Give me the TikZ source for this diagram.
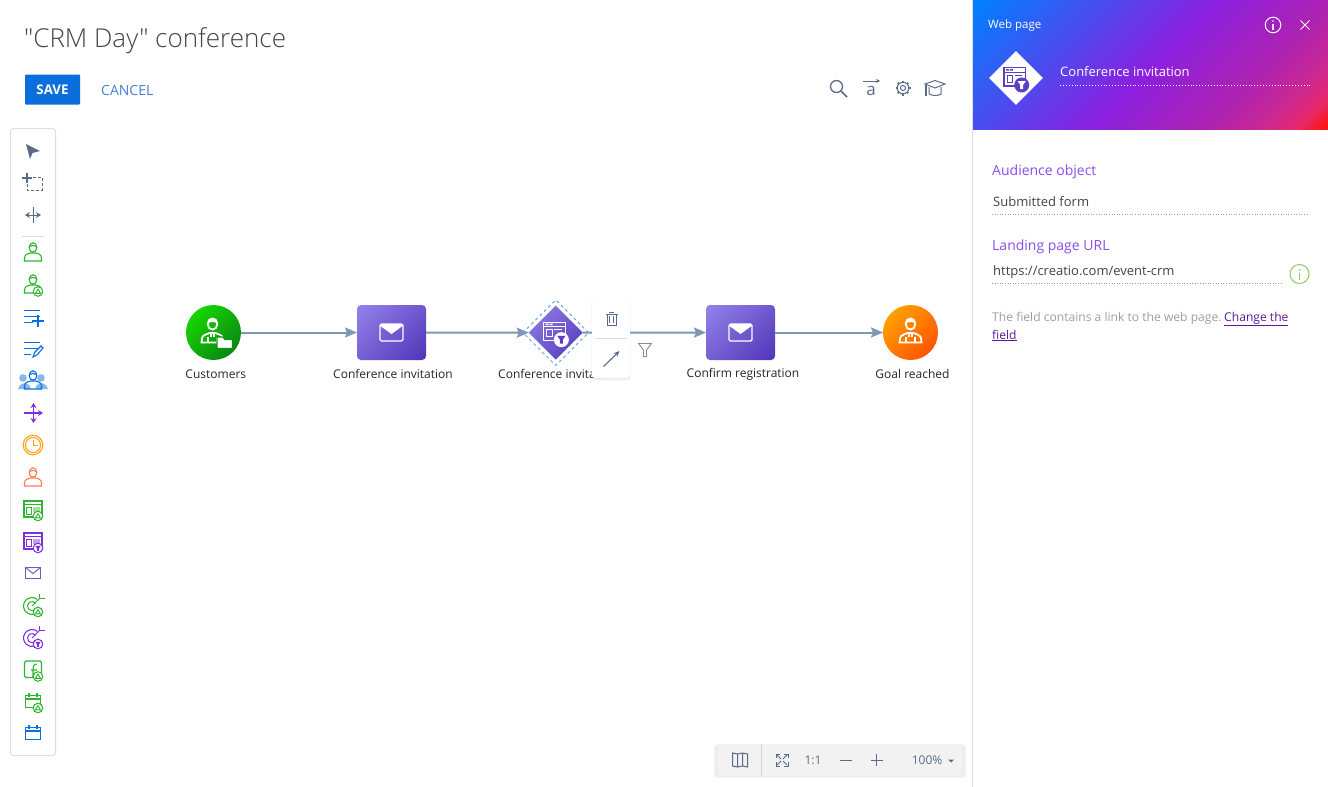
\documentclass[tikz,border=0pt]{standalone}
\usepackage{fontspec}
\setmainfont{Open Sans}
\newfontfamily\titlefont{Open Sans Light}
\usetikzlibrary{arrows.meta,shapes.geometric,shadows}

\definecolor{linkblue}{HTML}{0A6FDC}
\definecolor{cancelblue}{HTML}{4A7FD6}
\definecolor{textdark}{HTML}{444444}
\definecolor{slate}{HTML}{5A6B88}
\definecolor{flowline}{HTML}{7F97B2}
\definecolor{tooledge}{HTML}{DEDEDE}
\definecolor{usergreen}{HTML}{2DB52D}
\definecolor{listblue}{HTML}{0A6FDC}
\definecolor{flowpurple}{HTML}{7B2FE0}
\definecolor{clockorange}{HTML}{FFA31A}
\definecolor{goalred}{HTML}{FF7A5C}
\definecolor{mailpurple}{HTML}{6F5DB5}
\definecolor{darktask}{HTML}{5A3FC4}
\definecolor{labelpurple}{HTML}{8A4DF0}
\definecolor{linkpurple}{HTML}{5B1A9A}
\definecolor{infogreen}{HTML}{8CCB5E}
\definecolor{taska}{HTML}{9582EA}
\definecolor{taskb}{HTML}{4F35B8}
\definecolor{greena}{HTML}{16D600}
\definecolor{greenb}{HTML}{0A8714}
\definecolor{orangea}{HTML}{FFA000}
\definecolor{orangeb}{HTML}{FF5500}
\definecolor{heada}{HTML}{0080FF}
\definecolor{headb}{HTML}{8A20E0}
\definecolor{headc}{HTML}{B022B0}
\definecolor{headd}{HTML}{CC2890}
\definecolor{heade}{HTML}{E82868}
\definecolor{headf}{HTML}{FF1414}

\pgfdeclarehorizontalshading{taskgrad}{100bp}{color(0bp)=(taska); color(15bp)=(taska); color(85bp)=(taskb); color(100bp)=(taskb)}
\pgfdeclarehorizontalshading{greengrad}{100bp}{color(0bp)=(greena); color(25bp)=(greena); color(75bp)=(greenb); color(100bp)=(greenb)}
\pgfdeclarehorizontalshading{orangegrad}{100bp}{color(0bp)=(orangea); color(25bp)=(orangea); color(75bp)=(orangeb); color(100bp)=(orangeb)}
\pgfdeclarehorizontalshading{headgrad}{100bp}{color(0bp)=(heada); color(15bp)=(heada); color(50bp)=(headb); color(68bp)=(headc); color(76bp)=(headd); color(81bp)=(heade); color(84.5bp)=(headf); color(100bp)=(headf)}

\tikzstyle{textlabel}=[inner sep=0pt,anchor=west,text=textdark,font=\fontsize{13}{15}\selectfont]
\tikzstyle{steplabel}=[inner sep=0pt,text=black!85,font=\fontsize{12}{14}\selectfont]
\tikzstyle{barlabel}=[inner sep=0pt,text=slate,font=\fontsize{12}{14}\selectfont]
\tikzstyle{fieldname}=[textlabel,text=labelpurple,font=\fontsize{14}{16}\selectfont]
\tikzstyle{hint}=[textlabel,anchor=base west,text=black!38,font=\fontsize{12.1}{14}\selectfont]
\tikzstyle{eventnode}=[circle,minimum size=55pt,inner sep=0pt,outer sep=0pt,shade,shading angle=-45]
\tikzstyle{tasknode}=[rectangle,rounded corners=4pt,minimum width=69pt,minimum height=55pt,inner sep=0pt,outer sep=0pt,shade,shading=taskgrad,shading angle=-45]
\tikzstyle{flow}=[draw=flowline,line width=2pt,-{Stealth[length=12pt,width=10pt,inset=2pt]}]
\tikzstyle{fieldline}=[draw=black!40,line width=.6pt,dotted]
\tikzstyle{softshadow}=[drop shadow={shadow xshift=0pt,shadow yshift=-1.5pt,shadow scale=1.03,opacity=.08},drop shadow={shadow xshift=0pt,shadow yshift=-.5pt,shadow scale=1.01,opacity=.12}]

\tikzset{
  pics/usericon/.style={code={
    \draw[line width=1.1pt] (0,-4.5) ellipse (3.8 and 4.7);
    \draw[line width=1.1pt] (-3.4,-5.5) .. controls (-1,-7) and (1,-7) .. (3.4,-5.5);
    \draw[line width=1.1pt] (-8.5,9) -- (-8.5,6) .. controls (-8.5,2.5) and (-5,1.5) .. (-3,1) -- (3,1) .. controls (5,1.5) and (8.5,2.5) .. (8.5,6) -- (8.5,9) -- cycle;}},
  pics/upbadge/.style={code={
    \draw[line width=1pt,fill=white] (0,0) circle (4.8);
    \draw[line width=.9pt] (0,-2.4) -- (2.5,1.8) -- (-2.5,1.8) -- cycle;}},
  pics/filterbadge/.style={code={
    \draw[line width=1pt,fill=white] (0,0) circle (4.8);
    \fill (-2.8,-2.2) -- (2.8,-2.2) -- (.9,.5) -- (.9,2.8) -- (-.9,2.8) -- (-.9,.5) -- cycle;}},
  pics/windowicon/.style={code={
    \draw[line width=1.1pt] (-9,-9) rectangle (9,7);
    \draw[line width=.9pt] (-9,-5.5) -- (9,-5.5);
    \draw[line width=.9pt] (-6.5,-3) rectangle (-2,4.5);
    \fill[opacity=.45] (0,-3) rectangle (7,2);}},
  pics/targeticon/.style={code={
    \draw[line width=1.1pt] (-1,1) ++(-50:8.5) arc (-50:-330:8.5);
    \draw[line width=1pt] (-1,1) ++(-35:4.5) arc (-35:-330:4.5);
    \draw[line width=1pt] (-1,1) -- (7,-7);
    \draw[line width=1pt] (6.5,-11) -- (6.5,-6.5) -- (11.5,-6.5);}},
  pics/calicon/.style={code={
    \draw[line width=1.1pt] (-7.5,-5.5) rectangle (7.5,6.5);
    \draw[line width=1.1pt] (-7.5,-2) -- (7.5,-2);
    \draw[line width=1.1pt] (-4,-8) -- (-4,-4) (4,-8) -- (4,-4);}},
  pics/mailbadge/.style={code={
    \draw[white,line width=1.4pt,rounded corners=1.5pt] (-11.5,-8.5) rectangle (11.5,8.5);
    \fill[white] (-11,-8.5) -- (11,-8.5) -- (11,-6.5) -- (0,1.5) -- (-11,-6.5) -- cycle;}},
  pics/whitewindow/.style n args={3}{code={
    \draw[#1,line width=1.2pt] (-12,-10.5) rectangle (9.5,8);
    \draw[#1,line width=1pt] (-12,-6) -- (9.5,-6);
    \fill[#1] (-10,-9) rectangle (-7,-7.5) (-6,-9) rectangle (-3,-7.5);
    \draw[#1,line width=1pt] (-9,-3) rectangle (-3.5,4);
    \draw[#1,line width=1pt] (-1.5,-3) -- (6,-3);
    \fill[#2] (5.7,7) circle (7.5);
    \fill[#3] (1.6,3.2) -- (9.8,3.2) -- (7.2,6.8) -- (7.2,11) -- (4.2,11) -- (4.2,6.8) -- cycle;}},
  pics/whiteperson/.style={code={
    \draw[white,line width=1.8pt] (0,-8.5) ellipse (4.8 and 5.6);
    \fill[white] (-5.3,-9) .. controls (-2,-11) and (2,-11) .. (5.3,-9) .. controls (5,-15.5) and (-5,-15.5) .. (-5.3,-9);
    \draw[white,line width=1.8pt] (-11,10) -- (-10.5,5.5) .. controls (-10,2.5) and (-5,1.5) .. (-3,.5) -- (3,.5) .. controls (5,1.5) and (10,2.5) .. (10.5,5.5) -- (11,10) -- cycle;
    \draw[white,line width=1.5pt] (-4.5,4) -- (-4.5,10) (4.5,4) -- (4.5,10) (-1.5,1) -- (-1.5,4) (1.5,1) -- (1.5,4);}}
}

\begin{document}
\begin{tikzpicture}[x=1pt,y=-1pt]
\useasboundingbox (0,0) rectangle (1328,787);
\fill[white] (0,0) rectangle (1328,787);

% title and buttons
\node[textlabel,font=\titlefont\fontsize{26}{30}\selectfont] (title) at (24,41) {"CRM Day" conference};
\node[rectangle,fill=linkblue,rounded corners=1pt,minimum width=55pt,minimum height=30pt,inner sep=0pt,text height=9.3pt,text depth=0pt,text=white,font=\fontsize{13.3}{15}\selectfont\bfseries] (save) at (52.5,89.5) {SAVE};
\node[textlabel,text=cancelblue,font=\fontsize{14}{16}\selectfont] (cancel) at (101,90.5) {CANCEL};

% top right tools
\draw[slate,line width=1.3pt] (836.5,86.5) circle (6);
\draw[slate,line width=1.6pt] (841,91) -- (847,97);
\draw[slate,line width=1pt,-{Stealth[length=4pt,width=4pt]}] (863,81) -- (880,81);
\node[barlabel,font=\fontsize{17}{18}\selectfont] (atool) at (871,91) {a};
\draw[slate,line width=1pt] (903,88) circle (2.6);
\draw[slate,line width=1pt] (903,88) circle (5.8);
\foreach \a in {0,45,...,315}
  \draw[slate,line width=1.5pt] (903,88) ++(\a:5.8) -- ++(\a:1.7);
\draw[slate,line width=1pt,fill=white] (925,84) -- (935,80.5) -- (945,84) -- (935,88) -- cycle;
\draw[slate,line width=1pt] (929,87) -- (929,94) .. controls (933,96) and (938,96) .. (941,94) -- (941,87);
\draw[slate,line width=1.2pt] (926,85) -- (926,96);

% palette
\draw[tooledge,line width=1pt,rounded corners=3pt] (10.5,128.5) rectangle (55.5,755.5);
\fill[slate] (26,144) -- (40,151) -- (32.5,153) -- (30,159) -- cycle;
\draw[slate,line width=1.2pt] (22,178) -- (32,178) (27,173) -- (27,183);
\draw[slate,line width=1pt,densely dashed] (28,177) -- (42,177) -- (42,190) -- (27,190) -- (27,183);
\draw[slate,line width=1pt,{Stealth[length=5pt,width=6pt]}-{Stealth[length=5pt,width=6pt]}] (25,215) -- (41,215);
\draw[slate,line width=1pt] (33,207) -- (33,223);
\draw[tooledge,line width=1pt] (22,236.5) -- (44,236.5);

\pic[color=usergreen] at (33,252) {usericon};
\pic[color=usergreen] at (33,284) {usericon};
\pic[color=usergreen] at (38,291.5) {upbadge};

\draw[listblue,line width=1.2pt] (24,310.5) -- (40,310.5) (24,316.5) -- (40,316.5) (24,322.5) -- (33,322.5);
\draw[listblue,line width=1.2pt] (32,321) -- (44,321) (38,315) -- (38,327);
\draw[listblue,line width=1.2pt] (24,342.5) -- (40,342.5) (24,348.5) -- (38,348.5) (24,354.5) -- (31,354.5);
\draw[listblue,line width=1.1pt] (33,357) -- (35,352) -- (41,346) -- (43,348) -- (37,355) -- cycle;

\fill[listblue!50] (23,378) circle (3.8) (41,378) circle (3.8);
\fill[listblue!50] (18,389) .. controls (19,383) and (27,381) .. (30,386) -- (30,389) -- cycle;
\fill[listblue!50] (48,389) .. controls (47,383) and (39,381) .. (36,386) -- (36,389) -- cycle;
\pic[color=listblue] at (33,380) {usericon};

\draw[flowpurple,line width=1.2pt,-{Stealth[length=5pt,width=6pt]}] (24,413) -- (43,413);
\draw[flowpurple,line width=1.2pt,{Stealth[length=5pt,width=6pt]}-{Stealth[length=5pt,width=6pt]}] (33.5,403) -- (33.5,423);

\draw[clockorange,line width=1.1pt] (33,445) circle (9.8) (33,445) circle (7.6);
\draw[clockorange,line width=1pt] (33,440) -- (33,445.5) -- (38,445.5);

\pic[color=goalred] at (33,477) {usericon};

\pic[color=usergreen] at (33,510) {windowicon};
\pic[color=usergreen] at (38,516) {upbadge};
\pic[color=flowpurple] at (33,542) {windowicon};
\pic[color=flowpurple] at (38,548) {filterbadge};

\draw[mailpurple,line width=1.1pt] (25.5,567.5) rectangle (40.5,578.5);
\draw[mailpurple,line width=1pt] (25.5,567.5) -- (33,573.5) -- (40.5,567.5);

\pic[color=usergreen] at (33,605) {targeticon};
\pic[color=usergreen] at (38,612) {upbadge};
\pic[color=flowpurple] at (33,637) {targeticon};
\pic[color=flowpurple] at (38,644) {filterbadge};

\draw[usergreen,line width=1.1pt,rounded corners=1.5pt] (24.5,661) rectangle (41.5,677.5);
\draw[usergreen,line width=1.1pt] (37,664) .. controls (33,664) and (33,667) .. (33,670) -- (33,677) (31,670) -- (37,670);
\pic[color=usergreen] at (38,676.5) {upbadge};
\pic[color=usergreen] at (33,701) {calicon};
\pic[color=usergreen] at (38,708) {upbadge};
\pic[color=listblue] at (33,733) {calicon};

% flow nodes
\node[eventnode,shading=greengrad] (customers) at (213.5,332.5) {};
\node[tasknode] (invite) at (391.5,332.5) {};
\node[diamond,minimum width=54pt,minimum height=54pt,inner sep=0pt,outer sep=0pt,shade,shading=taskgrad,shading angle=-45] (landing) at (555.7,332.7) {};
\node[tasknode] (confirm) at (740.5,332.5) {};
\node[eventnode,shading=orangegrad] (goal) at (910.5,332.5) {};

\draw[flow] (customers) -- (invite);
\draw[flow] (invite) -- (landing);
\draw[flow] (landing) -- (confirm);
\draw[flow] (confirm) -- (goal);

\node[diamond,minimum width=66pt,minimum height=66pt,inner sep=0pt,draw=linkblue!60,line width=1pt,dashed] (selected) at (landing) {};

\node[steplabel] (customerslabel) at (215.8,374) {Customers};
\node[steplabel] (invitelabel) at (393,374) {Conference invitation};
\node[steplabel,anchor=west] (landinglabel) at (498,374) {Conference invitation};
\node[steplabel] (confirmlabel) at (743,374) {Confirm registration};
\node[steplabel] (goallabel) at (912.5,374) {Goal reached};

% icons on the nodes
\pic at (invite) {mailbadge};
\pic at (confirm) {mailbadge};
\pic at (landing) {whitewindow={white}{white}{darktask}};
\pic at (goal) {whiteperson};
\pic at ([xshift=-1pt]customers) {whiteperson};
\draw[greenb!85!greena,line width=1.2pt,fill=white] (217,338) -- (217,348.5) -- (232.5,348.5) -- (232.5,339.5) -- (225,339.5) -- (223,337) -- (217,337) -- cycle;

% popup on the selected node
\node[rectangle,fill=white,rounded corners=3pt,minimum width=38pt,minimum height=79pt,inner sep=0pt,softshadow] (popup) at (611,338.5) {};
\draw[black!12,line width=.8pt] (595,338.5) -- (627,338.5);
\draw[slate,line width=1pt] (607,314) rectangle (616,325);
\draw[slate,line width=1pt] (605.5,314) -- (617.5,314) (609,312) -- (614,312);
\draw[slate,line width=.8pt] (609.7,316) -- (609.7,323) (613.3,316) -- (613.3,323);
\draw[slate,line width=1.1pt,-{Stealth[length=6pt,width=5pt]}] (603.5,366.5) -- (619.5,351);
\draw[black!45,line width=.9pt] (638.5,343.5) -- (651.5,343.5) -- (646.5,350) -- (646.5,356.5) -- (643.5,356.5) -- (643.5,350) -- cycle;

% zoom bar
\node[rectangle,fill=black!5,rounded corners=3pt,minimum width=246pt,minimum height=32pt,inner sep=0pt,softshadow] (zoombar) at (840,760) {};
\draw[black!18,line width=.8pt] (761.5,744) -- (761.5,776);
\draw[slate,line width=1pt] (732.5,753) -- (737.5,754) -- (742.5,753) -- (747.5,754) -- (747.5,767) -- (742.5,766) -- (737.5,767) -- (732.5,766) -- cycle (737.5,754) -- (737.5,767) (742.5,753) -- (742.5,766);
\draw[slate,line width=1pt] (776,758) -- (776,754) -- (780,754) (784,754) -- (788,754) -- (788,758) (788,762) -- (788,766) -- (784,766) (780,766) -- (776,766) -- (776,762);
\draw[slate,line width=.9pt] (777,755) -- (781,759) (787,755) -- (783,759) (787,765) -- (783,761) (777,765) -- (781,761);
\node[barlabel] (oneone) at (813,760) {1:1};
\draw[slate,line width=1pt] (839.5,760) -- (851.5,760);
\draw[slate,line width=1pt] (870.5,760) -- (882.5,760) (876.5,754) -- (876.5,766);
\node[barlabel] (percent) at (927,760) {100\%};
\fill[slate] (948,759.5) -- (954,759.5) -- (951,762.5) -- cycle;

% side panel
\draw[black!12,line width=1pt] (972.5,0) -- (972.5,787);
\shade[shading=headgrad,shading angle=-45] (973,0) rectangle (1328,129.5);
\node[textlabel,text=white,font=\fontsize{11.5}{14}\selectfont] (kind) at (988,26) {Web page};
\draw[white,line width=1pt] (1273,25) circle (7.8);
\fill[white] (1273,21) circle (.9);
\draw[white,line width=1.3pt] (1273,23.5) -- (1273,29.5);
\draw[white,line width=1pt] (1300.5,20.5) -- (1309.5,29.5) (1309.5,20.5) -- (1300.5,29.5);
\node[diamond,fill=white,minimum width=54pt,minimum height=54pt,inner sep=0pt] (paneldiamond) at (1016,78) {};
\pic at (paneldiamond) {whitewindow={darktask}{darktask}{white}};
\node[textlabel,text=white] (stepname) at (1060,72) {Conference invitation};
\draw[white,line width=.9pt,dotted] (1060,85.5) -- (1312,85.5);

\node[fieldname] (audience) at (992,172) {Audience object};
\node[textlabel] (audiencevalue) at (993,202) {Submitted form};
\draw[fieldline] (992,214.5) -- (1308,214.5);
\node[fieldname] (landingurl) at (992,247) {Landing page URL};
\node[textlabel] (urlvalue) at (993,272) {https://creatio.com/event-crm};
\draw[fieldline] (992,283.5) -- (1281,283.5);
\draw[infogreen,line width=1pt] (1299.5,274) circle (9.5);
\fill[infogreen] (1299.5,270) circle (1);
\draw[infogreen,line width=1.4pt] (1299.5,272.5) -- (1299.5,279.5);
\node[hint] (hinttext) at (992,321) {The field contains a link to the web page.};
\node[hint,text=linkpurple] (hintlink) at (1224,321) {\underline{Change the}};
\node[hint,text=linkpurple] (hintlinktwo) at (992,339) {\underline{field}};
\end{tikzpicture}
\end{document}
